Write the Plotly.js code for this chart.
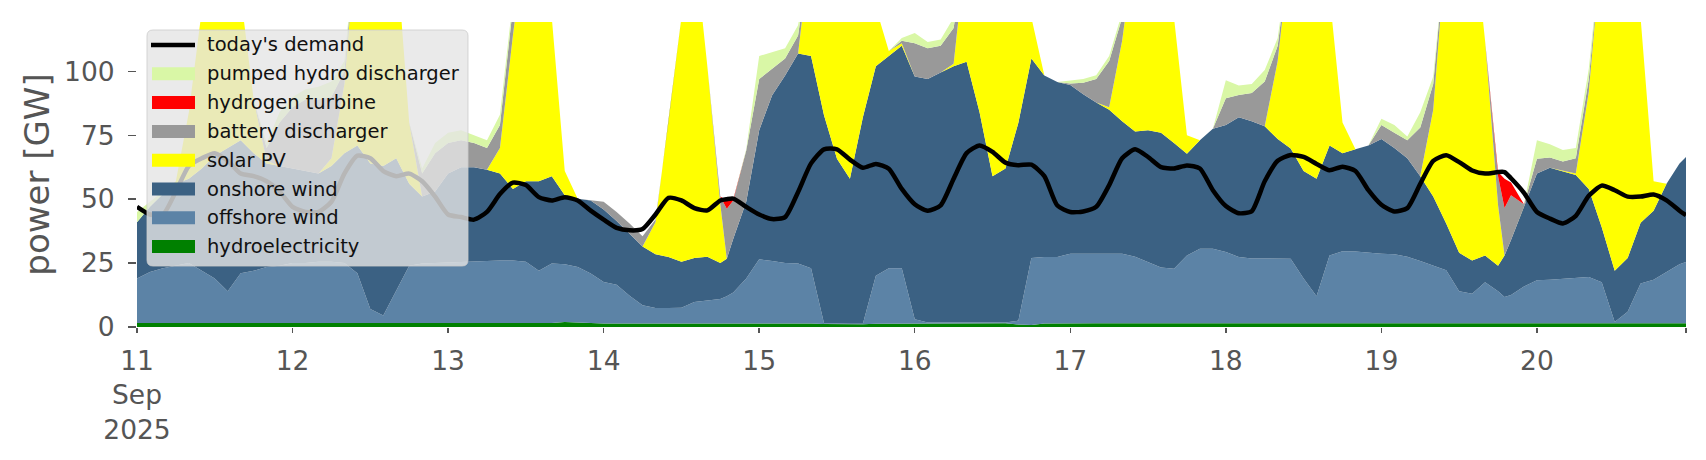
<!DOCTYPE html>
<html><head><meta charset="utf-8">
<script src="https://cdn.plot.ly/plotly-3.0.1.min.js"></script>
<style>html,body{margin:0;padding:0;background:#fff}#chart{width:1706px;height:460px}</style>
</head><body><div id="chart"></div>
<script>
// hours after 11 Sep 2025 00:00 at which values were read
const hoursFromStart = [
 0,2,4,6,8,10,12,14,16,18, 20,22,24,26,28,30,32,34,36,38,
 40,42,44,46,48,50,52,54,56,58, 60,62,64,66,68,70,72,74,76,78,
 80,82,84,86,88,90,91,92,94,96,98, 100,102,104,106,108,110,112,114,116,118,
 120,122,124,126,128,130,132,134,136,138, 140,142,144,146,148,150,152,154,156,158,
 160,162,164,166,168,170,172,174,176,178, 180,182,184,186,188,190,192,194,196,198,
 200,202,204,206,208,210,211,212,214,216,218, 220,222,224,226,228,230,232,234,236,238,239];

const hydroelectricity = [
 1.6,1.6,1.5,1.5,1.5,1.4,1.4,1.5,1.5,1.4, 1.4,1.5,1.5,1.5,1.4,1.4,1.5,1.6,1.6,1.5,
 1.5,1.4,1.4,1.4,1.5,1.5,1.4,1.4,1.4,1.5, 1.4,1.4,1.6,2.0,1.8,1.5,1.4,1.4,1.4,1.4,
 1.4,1.4,1.5,1.5,1.6,1.6,1.5,1.5,1.4,1.4,1.4, 1.4,1.4,1.4,1.2,1.1,1.1,1.1,1.3,1.3,1.3,
 1.3,1.5,1.5,1.5,1.5,1.5,1.5,1.5,1.0,0.8, 1.4,1.5,1.5,1.5,1.5,1.5,1.5,1.5,1.5,1.5,
 1.5,1.5,1.6,1.6,1.5,1.5,1.5,1.5,1.5,1.5, 1.5,1.5,1.5,1.4,1.5,1.5,1.5,1.5,1.5,1.5,
 1.6,1.5,1.5,1.5,1.5,1.5,1.5,1.4,1.5,1.5,1.5, 1.5,1.5,1.5,1.6,1.5,1.5,1.5,1.5,1.4,1.5,1.5];

const offshoreWind = [
 17.4,19.9,21.5,22.5,23.5,20.6,17.6,12.5,19.5,20.6, 22.1,22.5,23.5,23.5,24.1,24.1,23.5,19.4,5.4,3.0,
 12.5,22.6,23.4,23.6,23.7,24.0,24.3,24.6,24.6,24.5, 24.1,20.6,23.2,22.5,21.7,19.4,16.2,15.1,10.8,7.1,
 6.0,6.0,6.0,8.3,8.8,9.4,10.5,12.0,17.6,25.1,24.4, 23.6,23.4,21.6,0.3,0.2,0.2,0.2,18.7,21.7,21.7,
 1.7,0.3,0.3,0.3,0.3,0.3,0.3,0.3,1.5,26.2, 26.0,25.9,27.2,27.2,27.2,27.2,27.2,26.0,23.9,21.8,
 21.3,26.5,29.0,29.0,27.8,25.9,25.3,25.2,25.2,25.2, 17.5,10.5,26.5,28.2,28.0,27.5,27.2,27.0,26.0,24.3,
 22.5,20.7,12.5,11.5,16.0,12.5,10.2,11.1,14.3,16.8,17.0, 17.3,17.8,18.1,15.9,0.5,4.5,15.5,17.0,20.1,23.0,23.9];

const onshoreWind = [
 22,25.5,29,32,33,40,48,56,52,46, 40.5,39,37,36,34.5,37.5,43,50,57,58.5,
 52,32,26.2,28,34.8,37,36.8,35.5,34,28, 31.5,35,34.2,27,26.7,28.6,28.4,25,24.3,23,
 21.1,20,18,17.2,17.1,14,14.7,21,30,50.5,64.8, 73.4,82.2,83,81.3,64.5,56.7,80.7,82,83,87,
 95,95.2,97.7,100.2,102,82.2,57.2,60.2,77.5,78, 71,68.4,66,62.3,59.1,56.3,51.8,49,51.6,52.7,
 49.2,39.8,42.4,46.9,49.7,54.6,53.7,51.8,46.8,43.1, 42,46,43,38.4,40,42,44.8,41.5,38.5,33.2,
 26.9,18.3,15,13,10.5,10,16.3,21.5,31.2,41.7,43.8, 42.2,40.2,34.4,21.5,20,21,23.8,27,34.5,39.5,41.1];

const solarPV = [
 0,0,0,1,26,62,83,85,57,21, 1,0,0,0,0,3,27,86,101,97,
 81,24,0,0,0,0,0,0,10,60, 97,93,62,9.5,0,0,0,0,0,0,
 12.5,52.6,95.5,123,74.5,23,0,0,0,0,0, 0,0,44,82,100,100,68,23,2,1,
 0,0,0,1,46,81,111,103,70,16, 0,0,0,0,0,1,31.5,73.5,83,74,
 49,7.2,0,0,0,0,0,0,30.5,80, 99,97,59,12,0,0,0,0,0,0,
 34,109.5,131,134,84,23.6,0,0,0,0,0, 0,0.5,38,111,138,128,80,11.5,0,0,0];

const batteryDischarger = [
 0,0,0,0,0,0,0,0,0,0, 5,17,24,28,29,24,5,0,0,0,
 0,0,9,15,12,10.5,9.5,8.5,9,11, 0,0,0,0,0,0,3,3.5,4,4,
 1,0,0,0,0,3,19.6,15,20,20,10.4, 6.6,7,0,0,0,0,0,0,0,1,
 13,12,10.5,14,0,0,0,0,0,0, 0,0,0.5,4.5,9.2,18,9,0,0,0,
 0,0,0,0,10.5,8.7,11,17.5,6,0, 0,0,0,0,0,0,5.5,6,7,19,
 10,0,0,0,0,11.4,18.5,17.5,1,5.8,4, 3.7,6,5,0,0,0,0,0,0,0,0];

const hydrogenTurbine = [
 0,0,0,0,0,0,0,0,0,0, 0,0,0,0,0,0,0,0,0,0,
 0,0,0,0,0,0,0,0,0,0, 0,0,0,0,0,0,0,0,0,0,
 0,0,0,0,0,0,3.2,0.5,0,0,0, 0,0,0,0,0,0,0,0,0,0,
 0,0,0,0,0,0,0,0,0,0, 0,0,0,0,0,0,0,0,0,0,
 0,0,0,0,0,0,0,0,0,0, 0,0,0,0,0,0,0,0,0,0,
 0,0,0,0,0,1.6,11.5,5,0,0,0, 0,0,0,0,0,0,0,0,0,0,0];

const pumpedHydroDischarger = [
 4,2,1,0,0,0,0,0,0,0, 2,4,4,4,5,6,4,0,0,0,
 0,0,2,4,4,4,3,3,4,3, 0,0,0,0,0,0,0,0,0,0,
 0,0,0,0,0,0,0,0,0.5,9,6.6, 4,4,0,0,0,0,0,0,0,1,
 4,2.5,2.5,4,0,0,0,0,0,0, 0,0,1.3,1.5,1.5,2,2,0,0,0,
 0,0,0,0,7,3.8,3.5,4.5,3,0, 0,0,0,0,0,0,2.5,3,1.5,6,
 3,0,0,0,0,0,0,0,0,7.2,5.2, 4.5,4,4,0,0,0,0,0,0,0,0];

const todaysDemand = [
 47,44,44,53,63,66,68,65,60,59, 57,53,47,45,45,49,60,67,66,61,
 59,60,57,51,44,43,42,45,52,56.5, 55.5,50.8,49.5,50.8,49.5,45.5,42,38.8,37.8,38.3,
 44,50.5,49.5,46.5,45.6,49.5,50,50.2,47,44,42.2, 43,52.8,64,69.5,69.5,65.5,62.3,63.8,61.9,54,
 48,45.5,47.6,58,68,71,68.5,64.3,63.3,63.5, 59,47.5,45,45.2,47,55.5,66,69.5,66.5,62.5,
 62,63.2,62,53.5,47.3,44.5,45.3,57,65,67.3, 66.5,63.8,61.3,62.7,61,53.5,47.8,45.2,46.5,56,
 65,67.2,64.5,61.2,60,60.6,60.6,58.2,52.5,45,42.4, 40.5,43.5,51.3,55.3,53.5,51,51,51.8,49.5,45.5,43.7];

const dayTickDates = ['2025-09-11','2025-09-12','2025-09-13','2025-09-14','2025-09-15',
  '2025-09-16','2025-09-17','2025-09-18','2025-09-19','2025-09-20','2025-09-20 23:00'];
const dayTickLabels = ['11<br>Sep<br>2025','12','13','14','15','16','17','18','19','20',''];
const yTickValues = [0,25,50,75,100];

const seriesNames = ['hydroelectricity','offshore wind','onshore wind','solar PV',
  'battery discharger','hydrogen turbine','pumped hydro discharger'];
const seriesColors = ['#008000','#5c83a6','#3b6183','#ffff00','#999999','#ff0000','#d9f7a6'];
const seriesValues = [hydroelectricity, offshoreWind, onshoreWind, solarPV,
  batteryDischarger, hydrogenTurbine, pumpedHydroDischarger];
const demandName = "today's demand";
const demandColor = '#000000';

function stamp(h){
  const d = new Date(Date.UTC(2025,8,11,0,0,0) + h*3600000);
  return d.toISOString().slice(0,19).replace('T',' ');
}
const x = hoursFromStart.map(stamp);

const traces = seriesValues.map((vals,i)=>({
  type:'scatter', mode:'lines', x:x, y:vals, name:seriesNames[i],
  stackgroup:'generation', showlegend:false,
  line:{width:0, color:seriesColors[i]}, fillcolor:seriesColors[i], hoverinfo:'skip'
}));
traces.push({type:'scatter', mode:'lines', x:x, y:todaysDemand, name:demandName,
  showlegend:false, line:{color:demandColor, width:4.5, shape:'spline', smoothing:0.6}, hoverinfo:'skip'});

// ---- page geometry (pixels) ----
const W = 1706, H = 460;
const M = {l:137, r:20, t:22, b:133};
const PL = M.l, PR = W - M.r, PT = M.t, PB = H - M.b;
const px = v => (v - PL) / (PR - PL);
const py = v => (PB - v) / (PB - PT);

// legend drawn as a framed box (matching the original's look)
const legendBox = {x0:147, y0:30, x1:468, y1:266, r:6};
const rowTop = 45, rowStep = 28.8;
const legendEntries = [{name:demandName, color:demandColor, kind:'line'}];
for (let i = seriesNames.length - 1; i >= 0; i--) {
  legendEntries.push({name:seriesNames[i], color:seriesColors[i], kind:'box'});
}
const shapes = [];
const annotations = [];
{
  const b = legendBox, r = b.r;
  const P = (a,c) => px(a).toFixed(5) + ',' + py(c).toFixed(5);
  const path = 'M' + P(b.x0+r,b.y0) + ' L' + P(b.x1-r,b.y0) + ' Q' + P(b.x1,b.y0) + ' ' + P(b.x1,b.y0+r) +
    ' L' + P(b.x1,b.y1-r) + ' Q' + P(b.x1,b.y1) + ' ' + P(b.x1-r,b.y1) +
    ' L' + P(b.x0+r,b.y1) + ' Q' + P(b.x0,b.y1) + ' ' + P(b.x0,b.y1-r) +
    ' L' + P(b.x0,b.y0+r) + ' Q' + P(b.x0,b.y0) + ' ' + P(b.x0+r,b.y0) + ' Z';
  shapes.push({type:'path', xref:'paper', yref:'paper', path:path, layer:'above',
    fillcolor:'rgba(229,229,229,0.8)', line:{color:'rgba(204,204,204,0.8)', width:1}});
}
legendEntries.forEach((e,k)=>{
  const cy = rowTop + k*rowStep;
  if (e.kind === 'line') {
    shapes.push({type:'line', xref:'paper', yref:'paper', layer:'above',
      x0:px(151), x1:px(195), y0:py(cy), y1:py(cy), line:{color:e.color, width:4.5}});
  } else {
    shapes.push({type:'rect', xref:'paper', yref:'paper', layer:'above',
      x0:px(152), x1:px(195), y0:py(cy-6.5), y1:py(cy+6.5), fillcolor:e.color, line:{width:0}});
  }
  annotations.push({xref:'paper', yref:'paper', x:px(206), y:py(cy), xanchor:'left', yanchor:'middle',
    showarrow:false, text:e.name, borderpad:0,
    font:{family:'DejaVu Sans, sans-serif', size:19.5, color:'#111111'}});
});

const tickGrey = '#555555';
const layout = {
  width:W, height:H,
  margin:{l:M.l, r:M.r, t:M.t, b:M.b, pad:0},
  paper_bgcolor:'#ffffff', plot_bgcolor:'#ffffff',
  font:{family:'DejaVu Sans, sans-serif', color:tickGrey},
  showlegend:false,
  xaxis:{type:'date', range:[x[0], x[x.length-1]], tickmode:'array',
    tickvals:dayTickDates, ticktext:dayTickLabels, tickangle:0,
    ticks:'outside', ticklen:5, tickwidth:1.5, tickcolor:tickGrey,
    showgrid:false, zeroline:false, showline:false,
    tickfont:{size:26.5, color:tickGrey}, ticklabelstandoff:5},
  yaxis:{range:[0,119.3], tickmode:'array', tickvals:yTickValues,
    ticks:'outside', ticklen:8, tickwidth:1.5, tickcolor:tickGrey,
    showgrid:false, zeroline:false, showline:false,
    tickfont:{size:26.5, color:tickGrey}, ticklabelstandoff:8,
    title:{text:'power [GW]', font:{size:34, color:tickGrey}, standoff:4}},
  shapes:shapes,
  annotations:annotations
};

Plotly.newPlot('chart', traces, layout, {staticPlot:true, displayModeBar:false});
</script>
</body></html>
